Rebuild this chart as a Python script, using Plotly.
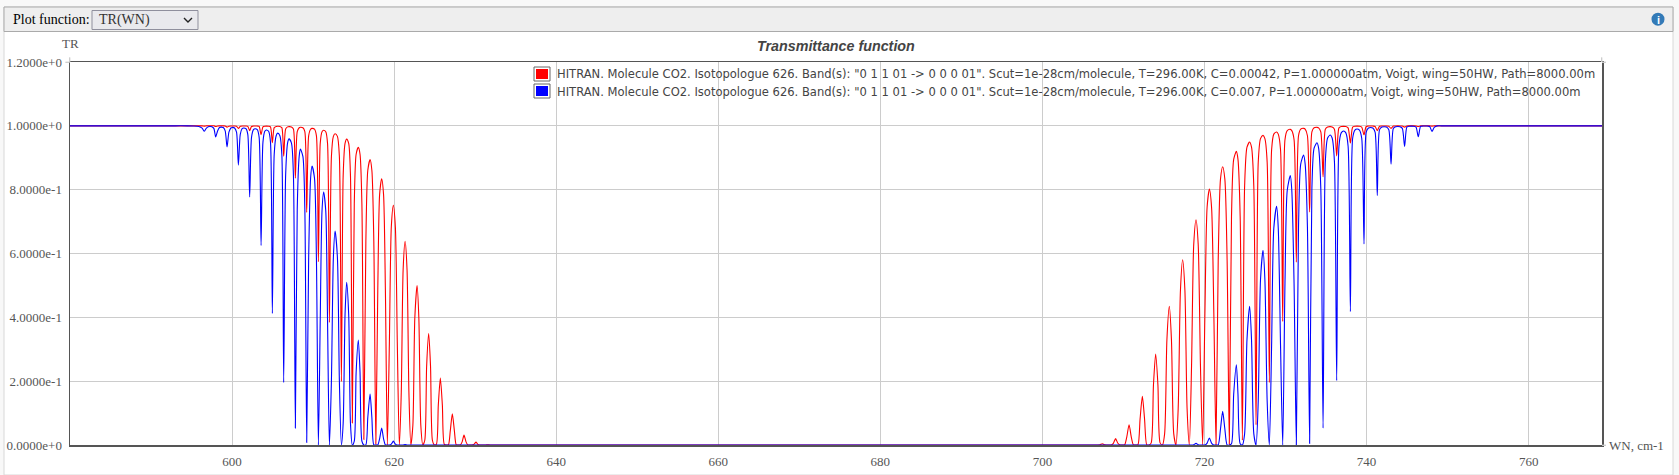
import plotly.graph_objects as go

# Values: x grid shared by both curves, one row per line (valley, shoulders, peak, shoulders)
wn_p = [
    580.0, 585.0, 590.0, 593.0, 594.5, 595.2, 595.9, 596.3,
    596.58, 596.81, 597.05, 597.32, 597.51, 597.75,
    597.98, 598.21, 598.45, 598.64, 598.91, 599.15,
    599.38, 599.61, 599.85, 600.04, 600.31, 600.55,
    600.78, 601.01, 601.24, 601.43, 601.71, 601.94,
    602.17, 602.40, 602.64, 602.84, 603.11, 603.34,
    603.58, 603.81, 604.04, 604.23, 604.51, 604.74,
    604.97, 605.20, 605.44, 605.63, 605.90, 606.14,
    606.37, 606.61, 606.85, 607.03, 607.33, 607.57,
    607.81, 608.04, 608.28, 608.43, 608.74, 608.98,
    609.21, 609.45, 609.69, 609.87, 610.17, 610.41,
    610.65, 610.88, 611.10, 611.30, 611.56, 611.78,
    612.01, 612.26, 612.50, 612.71, 613.00, 613.24,
    613.49, 613.71, 613.94, 614.14, 614.39, 614.61,
    614.84, 615.08, 615.31, 615.58, 615.79, 616.02,
    616.26, 616.51, 616.75, 617.03, 617.25, 617.49,
    617.74, 617.98, 618.21, 618.46, 618.69, 618.92,
    619.16, 619.41, 619.65, 619.90, 620.15, 620.39,
    620.64, 620.88, 621.11, 621.35, 621.59, 621.82,
    622.06, 622.31, 622.55, 622.83, 623.05, 623.29,
    623.54, 623.78, 624.01, 624.26, 624.49, 624.72,
    624.96, 625.21, 625.45, 625.70, 625.95, 626.19,
    626.44, 626.69, 626.93, 627.18, 627.43, 627.67,
    627.92, 628.16, 628.39, 628.62, 628.87, 629.10,
    629.34, 629.59, 629.83, 630.11, 630.33, 630.57,
    630.82, 631.07, 631.31, 631.56, 631.82, 632.06,
    632.3, 634.0, 640.0, 660.0, 680.0, 700.0, 704.0, 705.5,
]
tr_red_p = [
    1, 1, 1, 1, 1, 1, 1, 0.9998,
    0.999, 1, 1, 1, 1, 1,
    0.998, 0.9995, 1, 1, 1, 0.9995,
    0.996, 0.9988, 0.9996, 0.9997, 0.9996, 0.9988,
    0.992, 0.9984, 0.9995, 0.9996, 0.9995, 0.9984,
    0.985, 0.998, 0.9993, 0.9995, 0.9993, 0.998,
    0.972, 0.9968, 0.9989, 0.9992, 0.9989, 0.9968,
    0.947, 0.9944, 0.9981, 0.9986, 0.9981, 0.9944,
    0.905, 0.99, 0.9967, 0.9975, 0.9967, 0.99,
    0.836, 0.982, 0.994, 0.9955, 0.994, 0.982,
    0.729, 0.9684, 0.9894, 0.992, 0.9894, 0.9684,
    0.574, 0.945, 0.9814, 0.986, 0.9814, 0.945,
    0.384, 0.904, 0.967, 0.975, 0.967, 0.904,
    0.199, 0.844, 0.945, 0.9585, 0.945, 0.844,
    0.069, 0.756, 0.911, 0.9324, 0.911, 0.756,
    0.017, 0.639, 0.861, 0.894, 0.861, 0.639,
    0.002, 0.484, 0.786, 0.8343, 0.786, 0.484,
    0, 0.318, 0.683, 0.7507, 0.683, 0.318,
    0, 0.166, 0.55, 0.6379, 0.55, 0.166,
    0, 0.062, 0.397, 0.4997, 0.397, 0.062,
    0, 0.0149, 0.247, 0.3492, 0.247, 0.0149,
    0, 0.0019, 0.125, 0.21, 0.125, 0.0019,
    0, 0.0001, 0.045, 0.0975, 0.045, 0.0001,
    0, 0, 0.0098, 0.031, 0.0098, 0,
    0, 0, 0.0019, 0.009, 0.0019, 0,
    0, 0, 0.0001, 0.001, 0.0001, 0,
    0, 0, 0, 0, 0, 0, 0, 0,
]
tr_blue_p = [
    1, 1, 1, 1, 1, 0.9995, 0.998, 0.993,
    0.983, 0.992, 0.9973, 0.998, 0.9973, 0.992,
    0.965, 0.984, 0.9947, 0.996, 0.9947, 0.984,
    0.934, 0.98, 0.9933, 0.995, 0.9933, 0.98,
    0.877, 0.973, 0.991, 0.9932, 0.991, 0.973,
    0.777, 0.964, 0.988, 0.991, 0.988, 0.964,
    0.625, 0.949, 0.983, 0.987, 0.983, 0.949,
    0.412, 0.911, 0.969, 0.977, 0.969, 0.911,
    0.196, 0.846, 0.946, 0.959, 0.946, 0.846,
    0.053, 0.739, 0.904, 0.927, 0.904, 0.739,
    0.008, 0.584, 0.836, 0.874, 0.836, 0.584,
    0, 0.394, 0.734, 0.7925, 0.734, 0.394,
    0, 0.202, 0.587, 0.67, 0.587, 0.202,
    0, 0.068, 0.408, 0.51, 0.408, 0.068,
    0, 0.012, 0.228, 0.329, 0.228, 0.012,
    0, 0.0007, 0.087, 0.16, 0.087, 0.0007,
    0, 0, 0.02, 0.053, 0.02, 0,
    0, 0, 0.0028, 0.012, 0.0028, 0,
    0, 0, 0.0002, 0.0015, 0.0002, 0,
    0, 0, 0, 0, 0, 0,
    0, 0, 0, 0, 0, 0,
    0, 0, 0, 0, 0, 0,
    0, 0, 0, 0, 0, 0,
    0, 0, 0, 0, 0, 0,
    0, 0, 0, 0, 0, 0,
    0, 0, 0, 0, 0, 0,
    0, 0, 0, 0, 0, 0, 0, 0,
]

wn_r = [
    706.55, 706.82, 707.10, 707.39, 707.65, 707.92,
    708.20, 708.48, 708.75, 709.03, 709.31, 709.58,
    709.86, 710.13, 710.41, 710.69, 710.96, 711.23,
    711.50, 711.78, 712.05, 712.33, 712.60, 712.88,
    713.15, 713.42, 713.70, 713.97, 714.25, 714.52,
    714.80, 715.08, 715.36, 715.66, 715.92, 716.20,
    716.48, 716.75, 717.03, 717.30, 717.58, 717.85,
    718.13, 718.40, 718.67, 718.95, 719.22, 719.50,
    719.77, 720.05, 720.32, 720.60, 720.87, 721.15,
    721.42, 721.69, 721.97, 722.24, 722.51, 722.79,
    723.06, 723.33, 723.60, 723.93, 724.13, 724.40,
    724.67, 724.95, 725.24, 725.57, 725.80, 726.08,
    726.36, 726.63, 726.91, 727.22, 727.45, 727.73,
    728.00, 728.28, 728.55, 728.90, 729.10, 729.38,
    729.65, 729.93, 730.21, 730.59, 730.77, 731.05,
    731.33, 731.60, 731.87, 732.23, 732.42, 732.70,
    732.97, 733.25, 733.52, 733.88, 734.08, 734.35,
    734.63, 734.91, 735.19, 735.53, 735.75, 736.03,
    736.31, 736.59, 736.87, 737.17, 737.44, 737.72,
    738.00, 738.28, 738.56, 738.82, 739.12, 739.40,
    739.68, 739.95, 740.23, 740.50, 740.77, 741.05,
    741.32, 741.60, 741.89, 742.16, 742.45, 742.74,
    743.02, 743.30, 743.58, 743.86, 744.13, 744.41,
    744.69, 744.97, 745.25, 745.52, 745.82, 746.10,
    746.38, 746.66, 746.94, 747.22, 747.51, 747.79,
    748.07, 748.35, 748.7, 749.2, 750.0, 752.0, 760.0, 769.1,
]
tr_red_r = [
    0, 0, 0.0007, 0.0041, 0.0007, 0,
    0, 0, 0.0054, 0.0199, 0.0054, 0,
    0, 0, 0.0256, 0.0636, 0.0256, 0,
    0, 0.0005, 0.0818, 0.1524, 0.0818, 0.0005,
    0, 0.0066, 0.188, 0.285, 0.188, 0.0066,
    0, 0.0356, 0.33, 0.4343, 0.33, 0.0356,
    0, 0.1136, 0.485, 0.5805, 0.485, 0.1136,
    0, 0.248, 0.629, 0.7058, 0.629, 0.248,
    0, 0.4135, 0.745, 0.8019, 0.745, 0.4135,
    0, 0.578, 0.833, 0.8718, 0.833, 0.578,
    0.002, 0.716, 0.895, 0.92, 0.895, 0.716,
    0.015, 0.812, 0.933, 0.9492, 0.933, 0.812,
    0.063, 0.886, 0.96, 0.9701, 0.96, 0.886,
    0.196, 0.925, 0.974, 0.9806, 0.974, 0.925,
    0.387, 0.957, 0.985, 0.989, 0.985, 0.957,
    0.573, 0.969, 0.9895, 0.9921, 0.9895, 0.969,
    0.73, 0.981, 0.9938, 0.9953, 0.9938, 0.981,
    0.84, 0.9896, 0.9965, 0.9974, 0.9965, 0.9896,
    0.906, 0.9936, 0.9979, 0.9984, 0.9979, 0.9936,
    0.946, 0.996, 0.9987, 0.999, 0.9987, 0.996,
    0.972, 0.998, 0.9993, 0.9995, 0.9993, 0.998,
    0.985, 0.9988, 0.9996, 0.9997, 0.9996, 0.9988,
    0.992, 0.9992, 0.9997, 0.9998, 0.9997, 0.9992,
    0.996, 0.9996, 0.9999, 0.9999, 0.9999, 0.9996,
    0.998, 0.9998, 1, 1, 1, 0.9998,
    0.999, 0.9998, 1, 1, 1, 1, 1, 1,
]
tr_blue_r = [
    0, 0, 0, 0, 0, 0,
    0, 0, 0, 0, 0, 0,
    0, 0, 0, 0, 0, 0,
    0, 0, 0, 0, 0, 0,
    0, 0, 0, 0, 0, 0,
    0, 0, 0, 0, 0, 0,
    0, 0, 0, 0, 0, 0,
    0, 0, 0.0009, 0.005, 0.0009, 0,
    0, 0, 0.0061, 0.0217, 0.0061, 0,
    0, 0.0001, 0.05, 0.1053, 0.05, 0.0001,
    0, 0.004, 0.159, 0.2515, 0.159, 0.004,
    0, 0.0356, 0.33, 0.4343, 0.33, 0.0356,
    0, 0.138, 0.518, 0.6097, 0.518, 0.138,
    0, 0.313, 0.679, 0.7478, 0.679, 0.313,
    0, 0.507, 0.798, 0.8439, 0.798, 0.507,
    0, 0.682, 0.88, 0.9086, 0.88, 0.682,
    0.005, 0.804, 0.93, 0.947, 0.93, 0.804,
    0.053, 0.889, 0.962, 0.9711, 0.962, 0.889,
    0.202, 0.936, 0.978, 0.9836, 0.978, 0.936,
    0.418, 0.961, 0.9867, 0.99, 0.9867, 0.961,
    0.63, 0.98, 0.9933, 0.995, 0.9933, 0.98,
    0.782, 0.988, 0.996, 0.997, 0.996, 0.988,
    0.88, 0.992, 0.9973, 0.998, 0.9973, 0.992,
    0.9355, 0.996, 0.9987, 0.999, 0.9987, 0.996,
    0.966, 0.998, 0.9993, 0.9995, 0.9993, 0.998,
    0.9825, 0.995, 0.9998, 1, 1, 1, 1, 1,
]

y_ticks = [0, 0.2, 0.4, 0.6, 0.8, 1.0, 1.2]
y_tick_labels = ["0.0000e+0", "2.0000e-1", "4.0000e-1", "6.0000e-1", "8.0000e-1", "1.0000e+0", "1.2000e+0"]
x_ticks = [600, 620, 640, 660, 680, 700, 720, 740, 760]
legend_red = ('HITRAN. Molecule CO2. Isotopologue 626. Band(s): "0 1 1 01 -> 0 0 0 01". Scut=1e-28cm/molecule, '
              'T=296.00K, C=0.00042, P=1.000000atm, Voigt, wing=50HW, Path=8000.00m')
legend_blue = ('HITRAN. Molecule CO2. Isotopologue 626. Band(s): "0 1 1 01 -> 0 0 0 01". Scut=1e-28cm/molecule, '
               'T=296.00K, C=0.007, P=1.000000atm, Voigt, wing=50HW, Path=8000.00m')

W, H = 1679, 475
SERIF = "Liberation Serif"
SANS = "DejaVu Sans"
L, R, T, B = 70, 77, 62, 30
W_in, H_in = W - L - R, H - T - B


# Helpers for page furniture, given in pixels from the top left of the window
def px_rect(x0, y0, x1, y1, fill, line="rgba(0,0,0,0)", width=1, layer="below"):
    return dict(type="rect", xref="paper", yref="paper", x0=(x0 - L) / W_in, x1=(x1 - L) / W_in,
                y0=1 - (y0 - T) / H_in, y1=1 - (y1 - T) / H_in, fillcolor=fill, line=dict(color=line, width=width),
                layer=layer)


def px_text(x, y, text, size=13, color="#555555", family=SERIF, anchor="left"):
    return dict(xref="paper", yref="paper", x=(x - L) / W_in, y=1 - (y - T) / H_in, text=text, showarrow=False,
                xanchor=anchor, yanchor="middle", font=dict(family=family, size=size, color=color))


fig = go.Figure()
fig.add_trace(go.Scatter(x=wn_p + wn_r, y=tr_red_p + tr_red_r, mode="lines", name=legend_red,
                         line=dict(color="#ff0000", width=1.1, shape="spline", smoothing=0.7), showlegend=False))
fig.add_trace(go.Scatter(x=wn_p + wn_r, y=tr_blue_p + tr_blue_r, mode="lines", name=legend_blue,
                         line=dict(color="#0000ff", width=1.1, shape="spline", smoothing=0.7), showlegend=False))

shapes = [
    # page background, white panel, toolbar, select box
    px_rect(0, 0, W, H, "#f8f8f8"),
    px_rect(4, 7, 1673, H, "#ffffff", "#d8d8d8"),
    px_rect(4, 7, 1673, 31.5, "#eeeeee", "#aaaaaa"),
    px_rect(92, 10.5, 198, 29.5, "#e9e9ed", "#8f8f9d"),
    # legend swatches
    px_rect(534, 67, 550, 81, "#ffffff", "#666666", layer="above"),
    px_rect(536, 69, 548, 79, "#ff0000", layer="above"),
    px_rect(534, 84, 550, 98, "#ffffff", "#666666", layer="above"),
    px_rect(536, 86, 548, 96, "#0000ff", layer="above"),
    # small stubs at the frame corners
    px_rect(1601.7, 57.5, 1601.7, 62, "#cccccc", "#cccccc", layer="above"),
    px_rect(69.7, 57.5, 69.7, 62, "#cccccc", "#cccccc", layer="above"),
    px_rect(65.5, 62.3, 69.5, 62.3, "#cccccc", "#cccccc", layer="above"),
    px_rect(1602, 62.3, 1606, 62.3, "#cccccc", "#cccccc", layer="above"),
    px_rect(1602, 445.3, 1606, 445.3, "#cccccc", "#cccccc", layer="above"),
]
# select chevron, info dot
shapes.append(dict(type="path", xref="paper", yref="paper", layer="above",
                   path="M %f %f L %f %f L %f %f" % ((184 - L) / W_in, 1 - (18 - T) / H_in, (188 - L) / W_in,
                                                      1 - (22 - T) / H_in, (192 - L) / W_in, 1 - (18 - T) / H_in),
                   line=dict(color="#222222", width=1.4)))
shapes.append(dict(type="circle", xref="paper", yref="paper", layer="above", x0=(1651.5 - L) / W_in,
                   x1=(1664.5 - L) / W_in, y0=1 - (12.7 - T) / H_in, y1=1 - (25.7 - T) / H_in,
                   fillcolor="#337ab7", line=dict(width=0)))

annotations = [
    px_text(11.5, 20, "Plot function:", size=14, color="#000000"),
    px_text(97, 20, "TR(WN)", size=14, color="#333333"),
    px_text(1658, 19.5, "<b>i</b>", size=11, color="#ffffff", family="Liberation Sans", anchor="center"),
    px_text(70.5, 43, "TR", size=13, anchor="center"),
    px_text(1607, 445, "WN, cm-1", size=13),
    px_text(836, 46, "<b><i>Transmittance function</i></b>", size=14.3, color="#444444", family="Liberation Sans",
            anchor="center"),
    px_text(555, 73.5, legend_red, size=11.55, color="#444444", family=SANS),
    px_text(555, 91.5, legend_blue, size=11.55, color="#444444", family=SANS),
]

fig.update_layout(
    width=W, height=H, autosize=False,
    margin=dict(l=L, r=R, t=T, b=B, pad=0, autoexpand=False),
    paper_bgcolor="#ffffff", plot_bgcolor="rgba(0,0,0,0)",
    showlegend=False, hovermode=False,
    shapes=shapes, annotations=annotations,
    xaxis=dict(range=[580, 769.05], tickmode="array", tickvals=x_ticks, showgrid=True, gridcolor="#cccccc",
               gridwidth=1, zeroline=False, showline=True, linecolor="#555555", linewidth=1.5, mirror=True,
               ticks="outside", ticklen=4, tickcolor="rgba(0,0,0,0)",
               tickfont=dict(family=SERIF, size=13, color="#555555")),
    yaxis=dict(range=[0, 1.2], tickmode="array", tickvals=y_ticks, ticktext=y_tick_labels, showgrid=True,
               gridcolor="#cccccc", gridwidth=1, zeroline=False, showline=True, linecolor="#555555", linewidth=1.5,
               mirror=True, ticks="outside", ticklen=4, tickcolor="rgba(0,0,0,0)",
               tickfont=dict(family=SERIF, size=13, color="#555555")),
)

fig.write_html("out.html", config={"displayModeBar": False, "staticPlot": True},
               post_script="document.body.style.margin='0';document.body.style.overflow='hidden';")
